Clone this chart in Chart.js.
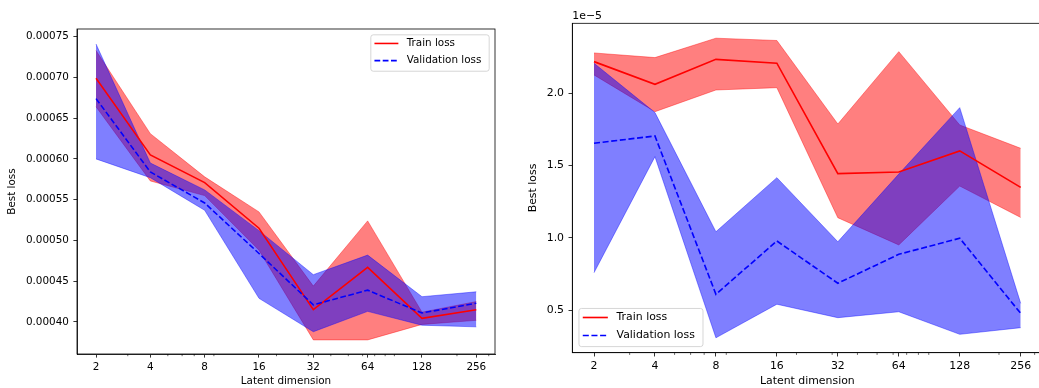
<!DOCTYPE html>
<html>
<head>
<meta charset="utf-8">
<script src="https://cdn.jsdelivr.net/npm/chart.js@4"></script>
<style>
  html, body { margin: 0; padding: 0; background: #fff; overflow: hidden; }
  body { width: 1039px; height: 388px; position: relative; }
  #left { position: absolute; left: 0; top: 0; }
  #right { position: absolute; left: 520px; top: 0; }
</style>
</head>
<body>
<canvas id="left" width="520" height="388"></canvas>
<canvas id="right" width="525" height="388"></canvas>
<script>
// Latent dimensions (x axis, log scale)
const dims = [2, 4, 8, 16, 32, 64, 128, 256];
const minorTicks = [3, 5, 6, 7, 9, 20, 30, 40, 50, 60, 70, 80, 90, 200, 300];

// Left panel
const leftTrainMean  = [0.000699, 0.000605, 0.000571, 0.000515, 0.000415, 0.000467, 0.0004045, 0.000415];
const leftTrainUpper = [0.000733, 0.000631, 0.000578, 0.000535, 0.000444, 0.000524, 0.000412, 0.000425];
const leftTrainLower = [0.000664, 0.000573, 0.000555, 0.000488, 0.000378, 0.000378, 0.000397, 0.000402];
const leftValMean    = [0.000674, 0.000584, 0.000546, 0.000484, 0.000421, 0.000439, 0.000411, 0.000423];
const leftValUpper   = [0.000741, 0.000595, 0.000562, 0.000512, 0.000458, 0.000482, 0.000431, 0.000437];
const leftValLower   = [0.000600, 0.000577, 0.000537, 0.000429, 0.000388, 0.000413, 0.000396, 0.000394];
const leftYTicks = [0.0004, 0.00045, 0.0005, 0.00055, 0.0006, 0.00065, 0.0007, 0.00075];

// Right panel (values in units of 1e-5)
const rightTrainMean  = [2.217, 2.060, 2.233, 2.206, 1.443, 1.454, 1.600, 1.348];
const rightTrainUpper = [2.277, 2.245, 2.379, 2.363, 1.786, 2.286, 1.779, 1.618];
const rightTrainLower = [2.125, 1.871, 2.021, 2.037, 1.138, 0.950, 1.357, 1.140];
const rightValMean    = [1.653, 1.703, 0.609, 0.977, 0.685, 0.885, 0.996, 0.477];
const rightValUpper   = [2.206, 1.865, 1.041, 1.415, 0.972, 1.440, 1.899, 0.546];
const rightValLower   = [0.758, 1.560, 0.308, 0.540, 0.447, 0.488, 0.332, 0.378];
const rightYTicks = [0.5, 1.0, 1.5, 2.0];

const FONT = '"DejaVu Sans", sans-serif';
const pts = arr => dims.map((d, i) => ({ x: d, y: arr[i] }));

// axes box, minor x ticks, offset text and legend
const framePlugin = {
  id: 'frame',
  afterDraw(chart, args, opts) {
    const { ctx, chartArea: a } = chart;
    const xs = chart.scales.x;
    const fs = opts.fontSize;
    ctx.save();
    ctx.strokeStyle = '#000';
    ctx.lineWidth = 0.6;
    minorTicks.forEach(v => {
      if (v < xs.min || v > xs.max) return;
      const px = xs.getPixelForValue(v);
      ctx.beginPath();
      ctx.moveTo(px, a.bottom);
      ctx.lineTo(px, a.bottom + 2.2);
      ctx.stroke();
    });
    ctx.lineWidth = 0.8;
    ctx.strokeRect(a.left, a.top, a.right - a.left, a.bottom - a.top);

    ctx.font = fs + 'px ' + FONT;
    ctx.fillStyle = '#000';
    if (opts.offsetText) {
      ctx.textAlign = 'left';
      ctx.textBaseline = 'alphabetic';
      ctx.fillText(opts.offsetText, a.left, a.top - 4);
    }

    // legend
    const items = chart.data.datasets.slice(0, 2);
    const textW = Math.max(...items.map(d => ctx.measureText(d.label).width));
    const w = 0.35 * fs + 3.1 * fs + textW + 0.75 * fs;
    const h = 3.5 * fs;
    const m = 0.56 * fs;
    const bx = opts.corner === 'upper right' ? a.right - m - w : a.left + m + 0.05 * fs;
    const by = opts.corner === 'upper right' ? a.top + m : a.bottom - m - h;
    ctx.beginPath();
    ctx.roundRect(bx, by, w, h, 2.5);
    ctx.fillStyle = 'rgba(255,255,255,0.8)';
    ctx.fill();
    ctx.strokeStyle = 'rgba(204,204,204,0.8)';
    ctx.lineWidth = 1;
    ctx.stroke();
    items.forEach((d, i) => {
      const cy = by + 0.83 * fs + i * 1.65 * fs;
      const hx = bx + 0.35 * fs;
      ctx.beginPath();
      ctx.setLineDash(d.borderDash || []);
      ctx.strokeStyle = d.borderColor;
      ctx.lineWidth = d.borderWidth;
      ctx.moveTo(hx, cy);
      ctx.lineTo(hx + 2.3 * fs, cy);
      ctx.stroke();
      ctx.setLineDash([]);
      ctx.fillStyle = '#000';
      ctx.textBaseline = 'middle';
      ctx.textAlign = 'left';
      ctx.fillText(d.label, hx + 3.1 * fs, cy);
    });
    ctx.restore();
  }
};

function makeChart(id, p) {
  const fs = p.fontSize;
  const lw = fs * 0.15;
  const band = (arr, color, fill, order) => ({
    data: pts(arr), borderColor: color, backgroundColor: color, borderWidth: 0.8,
    pointRadius: 0, fill: fill, order: order, label: ''
  });
  return new Chart(document.getElementById(id), {
    type: 'line',
    data: {
      datasets: [
        { label: 'Train loss', data: pts(p.trainMean), borderColor: '#ff0000', borderWidth: lw,
          pointRadius: 0, fill: false, order: 2 },
        { label: 'Validation loss', data: pts(p.valMean), borderColor: '#0000ff', borderWidth: lw,
          borderDash: [3.7 * lw, 1.6 * lw], pointRadius: 0, fill: false, order: 1 },
        band(p.trainUpper, 'rgba(255,0,0,0.5)', '+1', 6),
        band(p.trainLower, 'rgba(255,0,0,0.5)', false, 5),
        band(p.valUpper, 'rgba(0,0,255,0.5)', '+1', 4),
        band(p.valLower, 'rgba(0,0,255,0.5)', false, 3)
      ]
    },
    options: {
      responsive: false,
      animation: false,
      events: [],
      layout: { padding: p.padding },
      plugins: {
        legend: { display: false },
        tooltip: { enabled: false },
        frame: { fontSize: fs, corner: p.legendCorner, offsetText: p.offsetText }
      },
      scales: {
        x: {
          type: 'logarithmic',
          min: p.xMin, max: p.xMax,
          afterBuildTicks: s => { s.ticks = dims.map(v => ({ value: v })); },
          afterFit: s => { s.height = p.xHeight; },
          border: { display: true, color: '#000', width: 0.8 },
          grid: { display: true, drawOnChartArea: false, drawTicks: true, tickLength: 3.6 * fs / 10.4,
                  tickColor: '#000', tickWidth: 0.8 },
          ticks: { autoSkip: false, maxRotation: 0, padding: 3, color: '#000',
                   font: { family: FONT, size: fs }, callback: v => String(v) },
          title: { display: true, text: 'Latent dimension', color: '#000', padding: 0,
                   font: { family: FONT, size: fs } }
        },
        y: {
          min: p.yMin, max: p.yMax,
          afterBuildTicks: s => { s.ticks = p.yTicks.map(v => ({ value: v })); },
          afterFit: s => { s.width = p.yWidth; },
          border: { display: true, color: '#000', width: 0.8 },
          grid: { display: true, drawOnChartArea: false, drawTicks: true, tickLength: 3.6 * fs / 10.4,
                  tickColor: '#000', tickWidth: 0.8 },
          ticks: { padding: 4.5, color: '#000', font: { family: FONT, size: fs },
                   callback: v => v.toFixed(p.decimals) },
          title: { display: true, text: 'Best loss', color: '#000', padding: { top: 6.5, bottom: 0 },
                   font: { family: FONT, size: fs } }
        }
      }
    },
    plugins: [framePlugin]
  });
}

makeChart('left', {
  fontSize: 10.4,
  trainMean: leftTrainMean, trainUpper: leftTrainUpper, trainLower: leftTrainLower,
  valMean: leftValMean, valUpper: leftValUpper, valLower: leftValLower,
  yTicks: leftYTicks, decimals: 5,
  yMin: 0.0003607, yMax: 0.0007594,
  xMin: 2 * Math.pow(2, -0.35), xMax: 256 * Math.pow(2, 0.344),
  padding: { left: 0, top: 29, right: 25, bottom: 0 },
  xHeight: 34, yWidth: 77,
  legendCorner: 'upper right'
});

makeChart('right', {
  fontSize: 10.9,
  trainMean: rightTrainMean, trainUpper: rightTrainUpper, trainLower: rightTrainLower,
  valMean: rightValMean, valUpper: rightValUpper, valLower: rightValLower,
  yTicks: rightYTicks, decimals: 1,
  yMin: 0.205, yMax: 2.482,
  xMin: 2 * Math.pow(2, -0.356), xMax: 256 * Math.pow(2, 0.356),
  padding: { left: 0, top: 23.3, right: 2.6, bottom: 0 },
  xHeight: 35.3, yWidth: 52.3,
  legendCorner: 'lower left',
  offsetText: '1e\u22125'
});
</script>
</body>
</html>
